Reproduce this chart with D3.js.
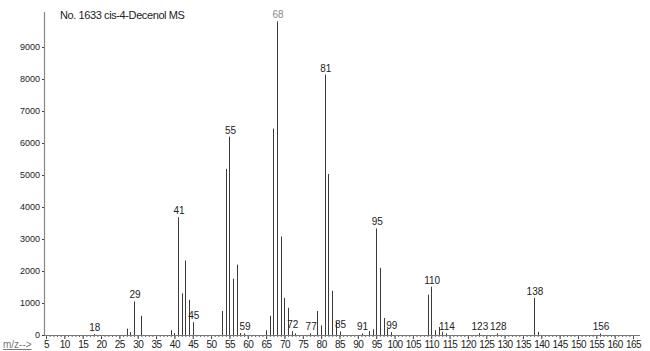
<!DOCTYPE html>
<html>
<head>
<meta charset="utf-8">
<script src="https://cdn.jsdelivr.net/npm/d3@7"></script>
<style>
	body { margin: 0; background: #fff; }
	svg text { font-family: "Liberation Sans", Arial, sans-serif; }
</style>
</head>
<body>
<div id="chart"></div>
<script>

///////////////////////////////////////////////////////////////////////////
//////////////////////////////// Data /////////////////////////////////////
///////////////////////////////////////////////////////////////////////////

var title = "No. 1633 cis-4-Decenol MS";

//m/z and relative abundance of each peak
var mz =        [18, 27, 28, 29,   31,  39,  40, 41,   42,   43,   44,   45,  53,  54,   55,   56,   57,   58, 59,
                 65, 66,  67,   68,   69,   70,   71,  72, 73, 77, 79,  80,  81,   82,   83,   84,  85, 91, 93,  94,
                 95,   96,   97,  98, 99, 109,  110,  111, 112, 113, 114, 123, 128, 138,  139, 156];
var intensity = [30, 200, 90, 1050, 600, 150, 60, 3680, 1300, 2330, 1100, 400, 750, 5190, 6200, 1760, 2200, 60, 50,
                 150, 600, 6450, 9800, 3080, 1160, 850, 120, 50, 50, 750, 300, 8140, 5030, 1380, 420, 110, 50, 120, 180,
                 3330, 2100, 530, 200, 90, 1260, 1510, 150, 250, 100, 50, 60, 50, 1160, 100, 50];

//Peaks that carry a label
var labeled = [18, 29, 41, 45, 55, 59, 68, 72, 77, 81, 85, 91, 95, 99, 110, 114, 123, 128, 138, 156];

var yTicks = [0, 1000, 2000, 3000, 4000, 5000, 6000, 7000, 8000, 9000];
var xTicks = d3.range(5, 166, 5);

///////////////////////////////////////////////////////////////////////////
//////////////////////////// Set up the svg ///////////////////////////////
///////////////////////////////////////////////////////////////////////////

var width = 650,
	height = 351;

var svg = d3.select("#chart")
	.append("svg")
	.attr("width", width)
	.attr("height", height);

var x = d3.scaleLinear().domain([5, 165]).range([46, 633]);
var y = d3.scaleLinear().domain([0, 10000]).range([335, 15]);

var ink = "#3a3a3a";

//Title
svg.append("text")
	.attr("x", 60)
	.attr("y", 19)
	.style("font-size", "11px")
	.style("letter-spacing", "-0.4px")
	.style("fill", "#222")
	.text(title);

///////////////////////////////////////////////////////////////////////////
//////////////////////////////// Axes /////////////////////////////////////
///////////////////////////////////////////////////////////////////////////

//Y axis
var yAxis = svg.append("g")
	.attr("transform", "translate(44,0)")
	.call(d3.axisLeft(y).tickValues(yTicks).tickFormat(d3.format("d")).tickSize(2).tickSizeOuter(0).tickPadding(2));

yAxis.select(".domain").remove();
yAxis.selectAll("line").attr("stroke", ink);
yAxis.selectAll("text").style("font-size", "9px").style("fill", "#222");

svg.append("line")
	.attr("x1", 44.5).attr("x2", 44.5)
	.attr("y1", 12).attr("y2", y(0))
	.attr("stroke", "#888")
	.attr("stroke-width", 1.2);

//X axis
var xAxis = svg.append("g")
	.attr("transform", "translate(0," + y(0) + ")")
	.call(d3.axisBottom(x).tickValues(xTicks).tickSize(4).tickSizeOuter(0).tickPadding(2));

xAxis.select(".domain").remove();
xAxis.selectAll("line").attr("stroke", ink);
xAxis.selectAll("text")
	.style("font-size", "10px")
	.style("letter-spacing", "-0.5px")
	.style("fill", "#222");

//minor ticks every unit
svg.append("g").selectAll(".minor")
	.data(d3.range(5, 166, 1))
	.enter().append("line")
	.attr("x1", function(d) { return x(d) + 0.5; })
	.attr("x2", function(d) { return x(d) + 0.5; })
	.attr("y1", y(0))
	.attr("y2", y(0) + 2)
	.attr("stroke", "#666");

svg.append("line")
	.attr("x1", 44).attr("x2", 640)
	.attr("y1", y(0) + 0.5).attr("y2", y(0) + 0.5)
	.attr("stroke", "#777");

//m/z label
svg.append("text")
	.attr("x", 3)
	.attr("y", 348)
	.style("font-size", "10px")
	.style("fill", "#777")
	.style("text-decoration", "underline")
	.text("m/z-->");

///////////////////////////////////////////////////////////////////////////
//////////////////////////////// Peaks ////////////////////////////////////
///////////////////////////////////////////////////////////////////////////

var peaks = mz.map(function(d, i) { return { mz: d, v: intensity[i] }; });

svg.append("g").selectAll(".peak")
	.data(peaks)
	.enter().append("line")
	.attr("class", "peak")
	.attr("x1", function(d) { return Math.round(x(d.mz)) + 0.5; })
	.attr("x2", function(d) { return Math.round(x(d.mz)) + 0.5; })
	.attr("y1", y(0))
	.attr("y2", function(d) { return y(d.v); })
	.attr("stroke", ink)
	.attr("stroke-width", 1);

svg.append("g").selectAll(".peakLabel")
	.data(peaks.filter(function(d) { return labeled.indexOf(d.mz) > -1; }))
	.enter().append("text")
	.attr("class", "peakLabel")
	.attr("x", function(d) { return x(d.mz) + 1; })
	.attr("y", function(d) { return y(d.v) - 3; })
	.style("text-anchor", "middle")
	.style("font-size", "10px")
	.style("fill", function(d) { return d.mz === 68 ? "#888" : "#222"; })
	.text(function(d) { return d.mz; });

</script>
</body>
</html>
